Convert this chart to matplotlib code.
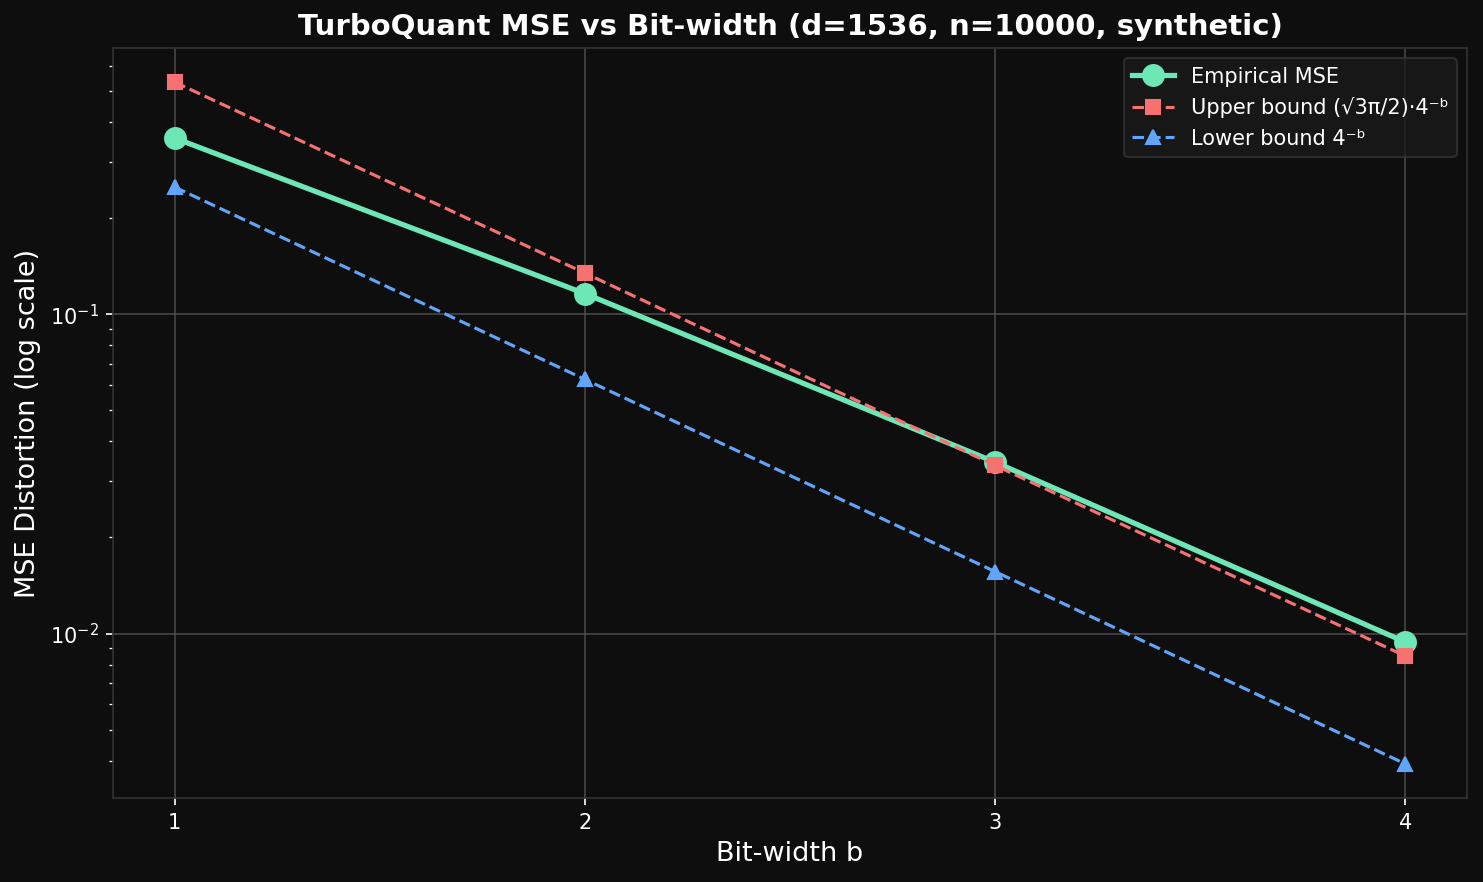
import matplotlib
matplotlib.use("Agg")
import matplotlib.pyplot as plt

# bit widths and MSE values
bits = [1, 2, 3, 4]
mse_empirical = [0.356, 0.116, 0.0344, 0.0094]
mse_upper = [0.533, 0.1345, 0.0336, 0.0085]
mse_lower = [0.25, 0.0625, 0.015625, 0.00390625]

BG = "#0e0e0e"
fig, ax = plt.subplots(figsize=(1483 / 150, 882 / 150), dpi=150)
fig.patch.set_facecolor(BG)
ax.set_facecolor(BG)

ax.plot(bits, mse_empirical, "o-", color="#6ee7b7", lw=2.5, ms=10, label="Empirical MSE")
ax.plot(bits, mse_upper, "s--", color="#f87171", lw=1.5, ms=7, label="Upper bound (√3π/2)·4⁻ᵇ")
ax.plot(bits, mse_lower, "^--", color="#60a5fa", lw=1.5, ms=7, label="Lower bound 4⁻ᵇ")

ax.set_yscale("log")
ax.set_xticks(bits)
ax.set_xlabel("Bit-width b", color="white", fontsize=13)
ax.set_ylabel("MSE Distortion (log scale)", color="white", fontsize=13)
ax.set_title("TurboQuant MSE vs Bit-width (d=1536, n=10000, synthetic)",
             color="white", fontsize=14, fontweight="bold")
ax.tick_params(colors="white", which="both")
ax.grid(True, which="major", color="#555555", alpha=0.8, lw=0.8)
for s in ax.spines.values():
    s.set_color("#333333")

leg = ax.legend(loc="upper right", facecolor="#1a1a1a", edgecolor="#333333", fontsize=10)
for t in leg.get_texts():
    t.set_color("white")

# axes box placed to match the reference
fig.subplots_adjust(left=0.0762, right=0.9892, top=0.9456, bottom=0.0952)
fig.savefig("out.png", facecolor=BG)
